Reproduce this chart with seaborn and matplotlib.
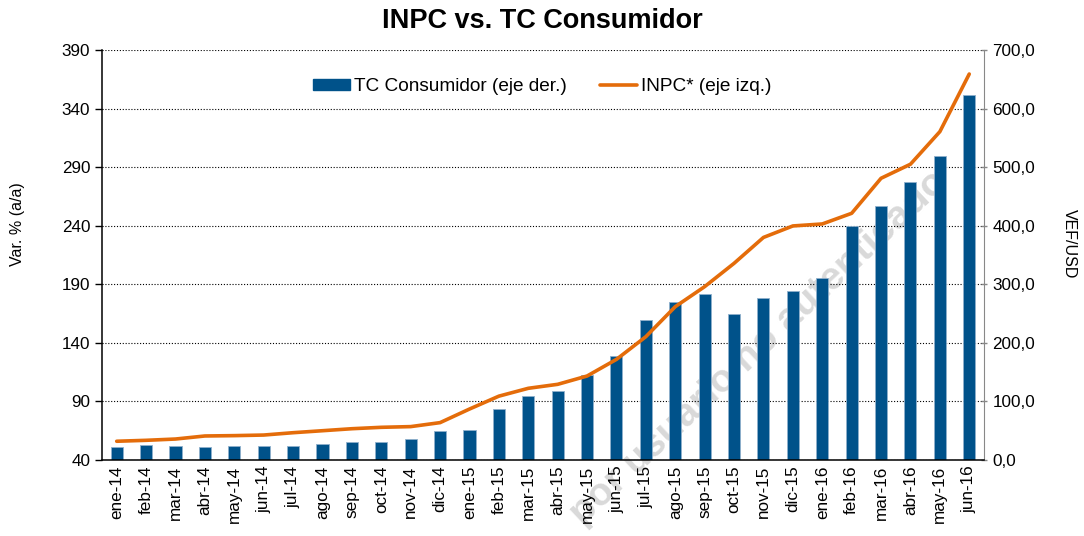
import numpy as np
import pandas as pd
import matplotlib
matplotlib.use("Agg")
import matplotlib.pyplot as plt
import seaborn as sns
from matplotlib.patches import Patch
from matplotlib.lines import Line2D
from matplotlib.ticker import FixedLocator, FuncFormatter

# months on the x axis
meses = [
    "ene-14", "feb-14", "mar-14", "abr-14", "may-14", "jun-14",
    "jul-14", "ago-14", "sep-14", "oct-14", "nov-14", "dic-14",
    "ene-15", "feb-15", "mar-15", "abr-15", "may-15", "jun-15",
    "jul-15", "ago-15", "sep-15", "oct-15", "nov-15", "dic-15",
    "ene-16", "feb-16", "mar-16", "abr-16", "may-16", "jun-16",
]

# TC Consumidor (VEF/USD, right axis)
tc_consumidor = [
    22.7, 26.0, 24.0, 22.7, 24.0, 24.0, 24.5, 26.7, 30.0, 30.7,
    35.3, 49.0, 50.7, 86.5, 109.0, 117.0, 144.6, 177.6, 239.0, 270.0,
    283.0, 248.7, 276.0, 288.5, 310.7, 400.0, 433.0, 475.0, 519.0, 622.6,
]

# INPC var. % a/a (left axis)
inpc = [
    56.0, 56.8, 57.9, 60.5, 60.8, 61.3, 63.3, 65.0, 66.7, 67.9,
    68.5, 71.9, 83.5, 94.5, 101.2, 104.6, 111.7, 125.9, 145.3, 170.9,
    188.0, 207.9, 230.0, 239.8, 241.5, 250.6, 280.5, 292.5, 320.3, 369.5,
]

left_ticks = [40, 90, 140, 190, 240, 290, 340, 390]
right_ticks = [0, 100, 200, 300, 400, 500, 600, 700]

azul = "#00528A"
naranja = "#E46C0A"

df = pd.DataFrame({"mes": meses, "tc": tc_consumidor, "inpc": inpc})

sns.set_style("white")
plt.rcParams["font.family"] = ["Liberation Sans", "DejaVu Sans"]
plt.rcParams["text.color"] = "black"
plt.rcParams["axes.labelcolor"] = "black"
plt.rcParams["xtick.color"] = "black"
plt.rcParams["ytick.color"] = "black"

fig = plt.figure(figsize=(10.84, 5.36), dpi=100)
ax = fig.add_axes([0.0941, 0.1418, 0.8136, 0.7649])
ax2 = ax.twinx()

# bars on the right axis (drawn underneath)
sns.barplot(data=df, x="mes", y="tc", ax=ax2, color=azul, width=0.41,
            saturation=1, edgecolor="#8fb0cc", linewidth=0.6, zorder=2)
ax2.set_ylim(0, 700)
ax2.yaxis.set_major_locator(FixedLocator(right_ticks))
ax2.yaxis.set_major_formatter(FuncFormatter(lambda v, p: f"{v:.1f}".replace(".", ",")))
ax2.grid(axis="y", color="black", linestyle=(0, (1, 1.6)), linewidth=0.8)
ax2.set_axisbelow(True)
ax2.set_ylabel("VEF/USD", fontsize=11.5, rotation=270)
ax2.yaxis.label.set_va("center")
ax2.yaxis.label.set_ha("center")
ax2.yaxis.set_label_coords(1.0964, 0.527)
ax2.set_xlabel("")
ax2.patch.set_visible(False)

# line on the left axis (drawn on top)
sns.lineplot(data=df, x="mes", y="inpc", ax=ax, color=naranja,
             linewidth=2.6, sort=False)
ax.set_ylim(40, 390)
ax.yaxis.set_major_locator(FixedLocator(left_ticks))
ax.set_ylabel("Var. % (a/a)", fontsize=11.5)
ax.yaxis.label.set_va("center")
ax.yaxis.label.set_ha("center")
ax.yaxis.set_label_coords(-0.0958, 0.576)
ax.set_xlabel("")
ax.set_zorder(ax2.get_zorder() + 1)
ax.patch.set_visible(False)
ax.grid(False)

n = len(meses)
ax.set_xlim(-0.5, n - 0.5)
ax.set_xticks(range(n))
ax.set_xticklabels(meses, rotation=90, fontsize=12.3)
ax.set_xticks(np.arange(n + 1) - 0.5, minor=True)
ax.tick_params(axis="x", which="major", length=0, pad=4)
ax.tick_params(axis="x", which="minor", length=5, width=1, color="black",
               direction="out")
ax.tick_params(axis="y", labelsize=12.3, length=5, width=1, color="black",
               direction="out", left=True)
ax2.tick_params(axis="y", labelsize=12.3, length=4, width=1, color="#888888",
                labelcolor="black", direction="inout", right=True, pad=4)
ax2.tick_params(axis="x", length=0)

for s in ["top"]:
    ax.spines[s].set_visible(False)
    ax2.spines[s].set_visible(False)
ax.spines["left"].set_color("black")
ax.spines["bottom"].set_color("black")
ax.spines["right"].set_visible(False)
ax2.spines["left"].set_visible(False)
ax2.spines["bottom"].set_visible(False)
ax2.spines["right"].set_color("#888888")
for s in ["left", "bottom"]:
    ax.spines[s].set_linewidth(1.1)

handles = [
    Patch(facecolor=azul, edgecolor=azul, label="TC Consumidor (eje der.)"),
    Line2D([0], [0], color=naranja, linewidth=2.6, label="INPC* (eje izq.)"),
]
ax.legend(handles=handles, loc="center", bbox_to_anchor=(0.499, 0.9098),
          ncol=2, frameon=False, fontsize=13.7, columnspacing=1.75,
          handlelength=1.95, handletextpad=0.2, handleheight=0.47,
          borderpad=0, borderaxespad=0)

fig.suptitle("INPC vs. TC Consumidor", fontsize=19.5, fontweight="bold",
             x=0.5, y=0.985)

# faint watermark
fig.text(0.70, 0.35, "por usuario no autenticado", fontsize=28,
         fontweight="bold", color="#d9d9d9", rotation=43,
         ha="center", va="center", zorder=-1)

fig.savefig("out.png", dpi=100)
